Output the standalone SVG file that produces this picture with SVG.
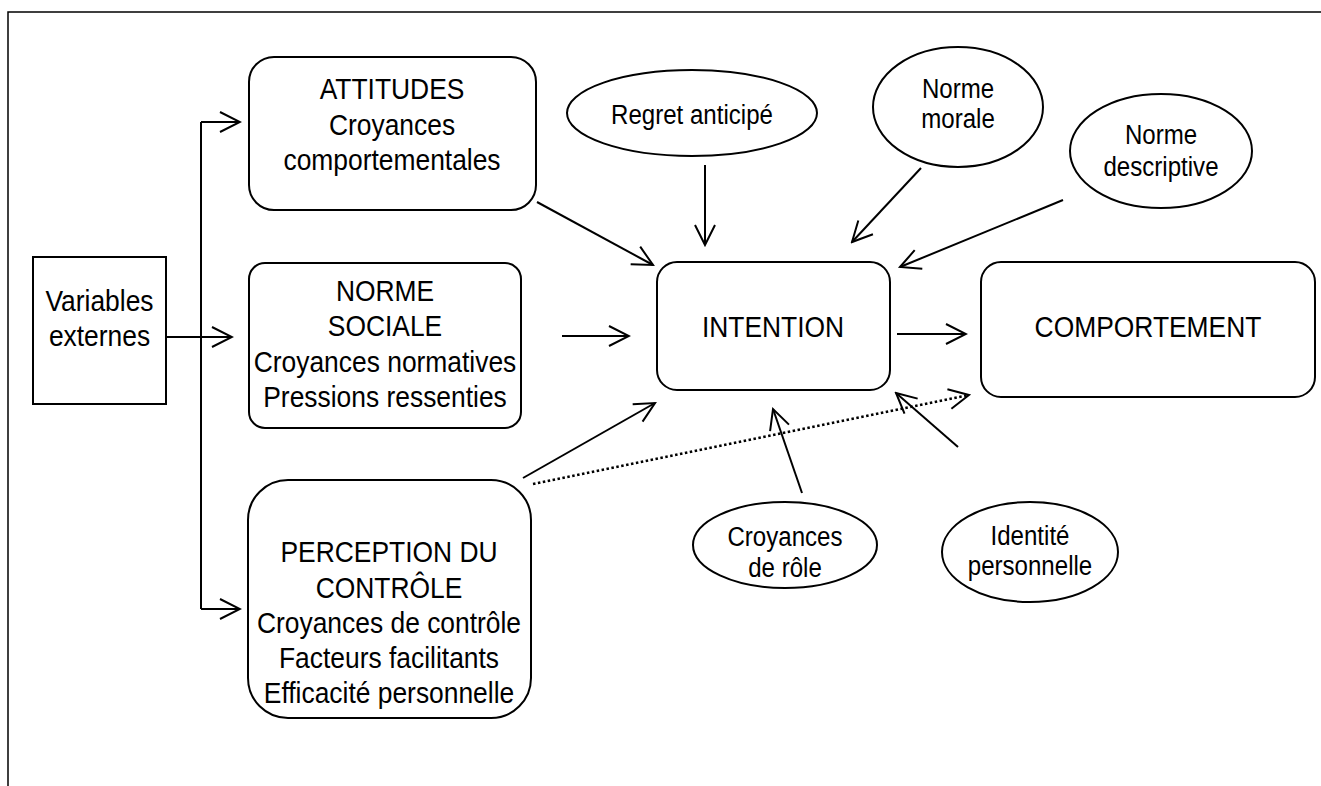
<svg xmlns="http://www.w3.org/2000/svg" width="1321" height="786" viewBox="0 0 1321 786">
<style>
.sh{fill:#fff;stroke:#000;stroke-width:2}
.b{font-family:"Liberation Sans",Arial,sans-serif;font-size:30px;fill:#000;text-anchor:middle}
.e{font-family:"Liberation Sans",Arial,sans-serif;font-size:28px;fill:#000;text-anchor:middle}
.c{fill:none;stroke:#000;stroke-width:2}
.d{fill:none;stroke:#000;stroke-width:2.5;stroke-dasharray:2.5 2.5}
</style>
<defs>
<marker id="ah" viewBox="0 0 24 24" refX="22" refY="12" markerWidth="24" markerHeight="24" markerUnits="userSpaceOnUse" orient="auto">
<path d="M2,2 L22,12 L2,22" fill="none" stroke="#000" stroke-width="2"/>
</marker>
</defs>
<rect width="1321" height="786" fill="#fff"/>
<path d="M8,786 V12 H1321" fill="none" stroke="#000" stroke-width="1.5"/>
<g id="variables">
<rect class="sh" x="33" y="257" width="133" height="147"/>
<text class="b" transform="translate(99.5,311) scale(0.88,1)">Variables</text>
<text class="b" transform="translate(99.5,346) scale(0.88,1)">externes</text>
</g>
<g id="attitudes">
<rect class="sh" x="249" y="57" width="287" height="153" rx="25"/>
<text class="b" transform="translate(392,99) scale(0.88,1)">ATTITUDES</text>
<text class="b" transform="translate(392,135) scale(0.88,1)">Croyances</text>
<text class="b" transform="translate(392,170) scale(0.88,1)">comportementales</text>
</g>
<g id="norme-sociale">
<rect class="sh" x="249" y="263" width="272" height="165" rx="16"/>
<text class="b" transform="translate(385,301) scale(0.88,1)">NORME</text>
<text class="b" transform="translate(385,336) scale(0.88,1)">SOCIALE</text>
<text class="b" transform="translate(385,372) scale(0.88,1)">Croyances normatives</text>
<text class="b" transform="translate(385,407) scale(0.88,1)">Pressions ressenties</text>
</g>
<g id="perception">
<rect class="sh" x="248" y="480" width="283" height="238" rx="40"/>
<text class="b" transform="translate(389,562) scale(0.88,1)">PERCEPTION DU</text>
<text class="b" transform="translate(389,598) scale(0.88,1)">CONTRÔLE</text>
<text class="b" transform="translate(389,633) scale(0.88,1)">Croyances de contrôle</text>
<text class="b" transform="translate(389,668) scale(0.88,1)">Facteurs facilitants</text>
<text class="b" transform="translate(389,703) scale(0.88,1)">Efficacité personnelle</text>
</g>
<g id="intention">
<rect class="sh" x="657" y="262" width="233" height="128" rx="20"/>
<text class="b" transform="translate(773,337) scale(0.88,1)">INTENTION</text>
</g>
<g id="comportement">
<rect class="sh" x="981" y="262" width="334" height="135" rx="20"/>
<text class="b" transform="translate(1148,337) scale(0.88,1)">COMPORTEMENT</text>
</g>
<g id="regret">
<ellipse class="sh" cx="692" cy="113" rx="125" ry="43"/>
<text class="e" transform="translate(692,124) scale(0.86,1)">Regret anticipé</text>
</g>
<g id="norme-morale">
<ellipse class="sh" cx="958" cy="107" rx="85" ry="60"/>
<text class="e" transform="translate(958,98) scale(0.86,1)">Norme</text>
<text class="e" transform="translate(958,128) scale(0.86,1)">morale</text>
</g>
<g id="norme-descriptive">
<ellipse class="sh" cx="1161" cy="151" rx="91" ry="57"/>
<text class="e" transform="translate(1161,144) scale(0.86,1)">Norme</text>
<text class="e" transform="translate(1161,176) scale(0.86,1)">descriptive</text>
</g>
<g id="croyances-role">
<ellipse class="sh" cx="785" cy="545" rx="92" ry="43"/>
<text class="e" transform="translate(785,546) scale(0.86,1)">Croyances</text>
<text class="e" transform="translate(785,577) scale(0.86,1)">de rôle</text>
</g>
<g id="identite">
<ellipse class="sh" cx="1030" cy="552" rx="88" ry="50"/>
<text class="e" transform="translate(1030,545) scale(0.86,1)">Identité</text>
<text class="e" transform="translate(1030,575) scale(0.86,1)">personnelle</text>
</g>
<g id="connectors">
<path class="c" d="M201,122 V609"/>
<path class="c" d="M201,122 H240" marker-end="url(#ah)"/>
<path class="c" d="M166,337 H232" marker-end="url(#ah)"/>
<path class="c" d="M201,609 H240" marker-end="url(#ah)"/>
<path class="c" d="M537,202 L653,265" marker-end="url(#ah)"/>
<path class="c" d="M705,165 V245" marker-end="url(#ah)"/>
<path class="c" d="M921,168 L852,242" marker-end="url(#ah)"/>
<path class="c" d="M1063,200 L900,267" marker-end="url(#ah)"/>
<path class="c" d="M562,336 H629" marker-end="url(#ah)"/>
<path class="c" d="M897,334 H966" marker-end="url(#ah)"/>
<path class="c" d="M523,478 L655,403" marker-end="url(#ah)"/>
<path class="c" d="M802,493 L773,409" marker-end="url(#ah)"/>
<path class="c" d="M958,447 L896,393" marker-end="url(#ah)"/>
<path class="d" d="M533,484 L969,395" marker-end="url(#ah)"/>
</g>
</svg>
